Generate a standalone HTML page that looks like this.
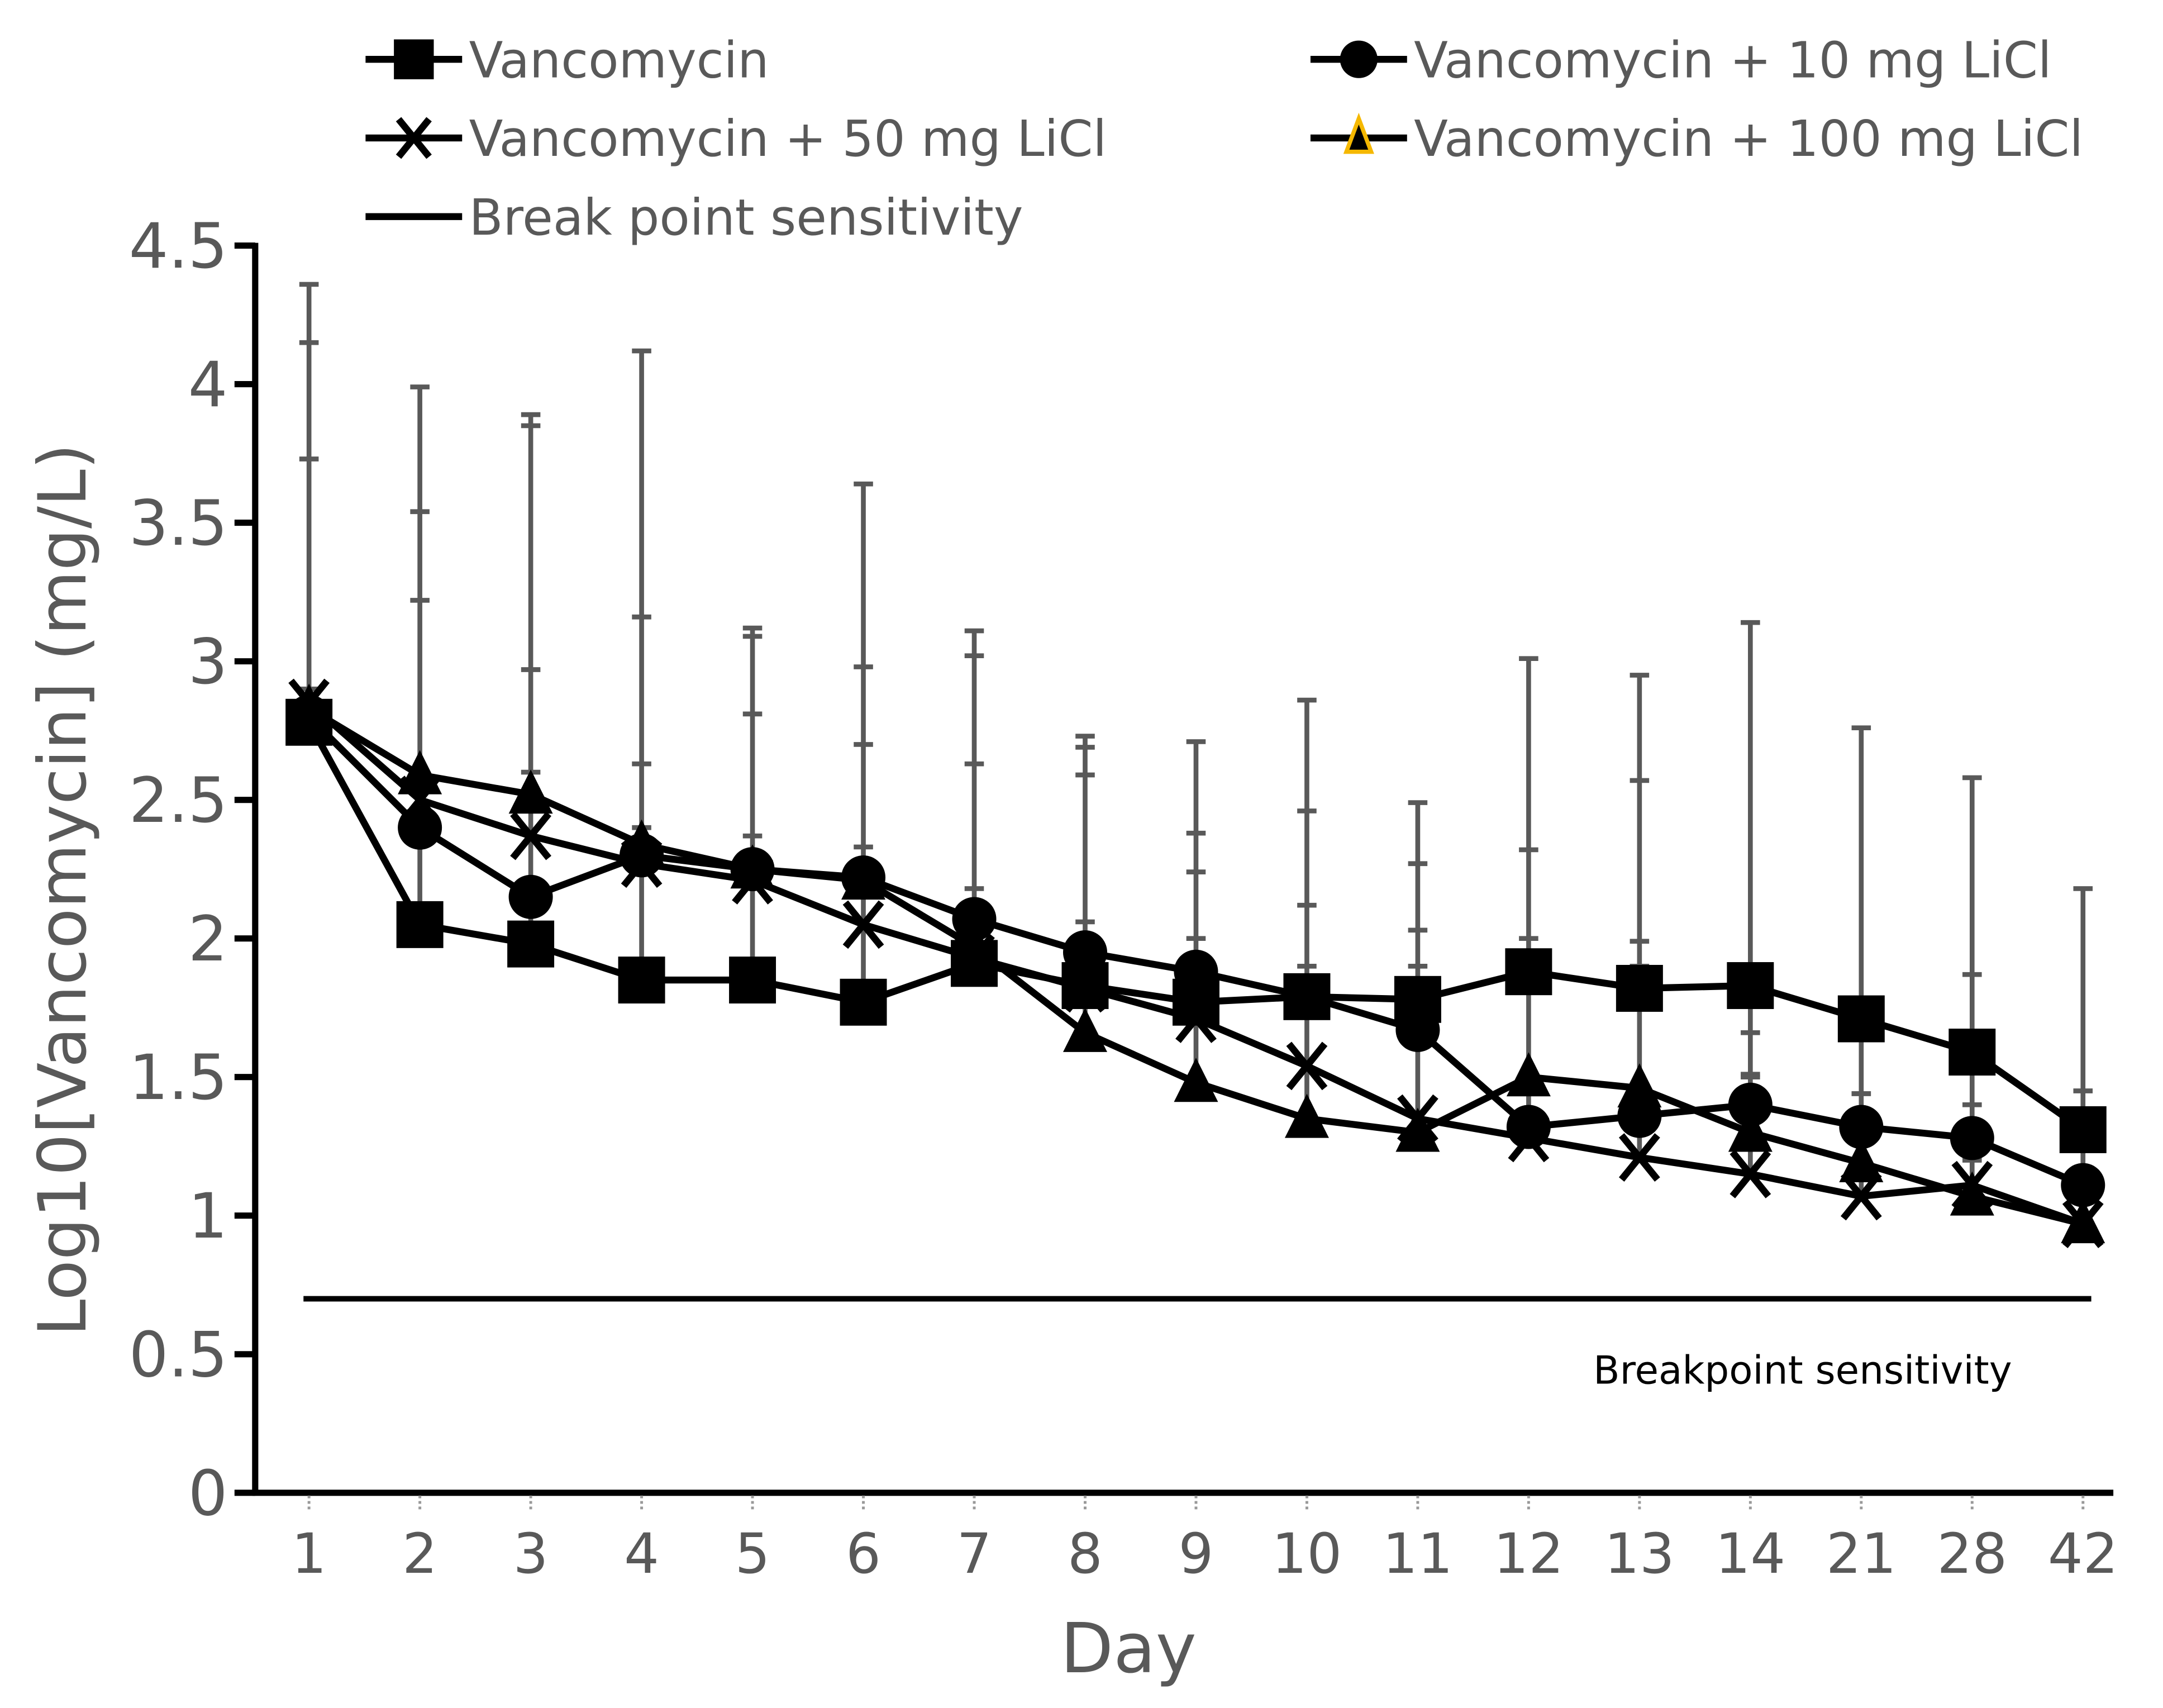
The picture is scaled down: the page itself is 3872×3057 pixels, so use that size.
<!DOCTYPE html>
<html><head><meta charset="utf-8"><style>
html,body{margin:0;padding:0;background:#fff}
svg{display:block}
text{font-family:"DejaVu Sans","Liberation Sans",sans-serif}
</style></head><body>
<svg width="3872" height="3057" viewBox="0 0 1568 1238" preserveAspectRatio="none" xmlns="http://www.w3.org/2000/svg">
<g id="legend"></g>
<g id="axes"></g>
<g id="errs"></g>
<g id="series"></g>
</svg>
<script>
const days = ["1","2","3","4","5","6","7","8","9","10","11","12","13","14","21","28","42"];
const yTicks = [0,0.5,1,1.5,2,2.5,3,3.5,4,4.5];
const yTickLabels = ["0","0.5","1","1.5","2","2.5","3","3.5","4","4.5"];
const vanc = [2.78,2.05,1.98,1.85,1.85,1.77,1.91,1.83,1.77,1.79,1.78,1.88,1.82,1.83,1.71,1.59,1.31];
const li10 = [2.80,2.40,2.15,2.30,2.25,2.22,2.07,1.95,1.88,1.79,1.67,1.32,1.36,1.40,1.32,1.28,1.11];
const li50 = [2.85,2.50,2.37,2.27,2.21,2.05,1.93,1.82,1.71,1.54,1.35,1.28,1.21,1.15,1.07,1.11,0.97];
const li100 = [2.83,2.59,2.52,2.34,2.25,2.21,1.97,1.66,1.48,1.35,1.30,1.50,1.46,1.30,1.19,1.07,0.97];
const vancUp = [4.36,3.99,3.89,4.12,3.12,3.64,3.11,2.73,2.71,2.86,2.49,3.01,2.95,3.14,2.76,2.58,2.18];
const li10Up = [4.15,3.54,3.85,3.16,3.09,2.98,3.02,2.69,2.38,2.46,2.27,2.32,2.57,1.66,1.44,1.87,1.45];
const li50Up = [3.73,3.22,2.97,2.63,2.81,2.70,2.63,2.59,2.24,2.12,2.03,2.00,1.99,1.51,1.44,1.40,1.25];
const li100Up = [2.90,2.60,2.60,2.40,2.37,2.33,2.18,2.06,2.00,1.90,1.90,1.90,1.90,1.50,1.30,1.20,1.10];
const breakpoint = 0.7;

const NS="http://www.w3.org/2000/svg";
const X0=224, X1=1510, Y0=1082, YTOP=178;
function xs(i){return X0+(X1-X0)*i/(days.length-1);}
function ys(v){return Y0-(Y0-YTOP)*v/4.5;}
function mk(tag,attrs,parent,txt){const e=document.createElementNS(NS,tag);for(const k in attrs)e.setAttribute(k,attrs[k]);if(txt!==undefined)e.textContent=txt;parent.appendChild(e);return e;}
const axes=document.getElementById('axes'), errs=document.getElementById('errs'), ser=document.getElementById('series'), leg=document.getElementById('legend');

let a=mk('line',{x1:185,y1:176,x2:185,y2:1084,stroke:'#000','stroke-width':4.5},axes);


a=mk('line',{x1:183,y1:1082,x2:1532,y2:1082,stroke:'#000','stroke-width':4.5},axes);


yTicks.forEach((v,i)=>{
  const t=mk('line',{x1:170,y1:ys(v),x2:185,y2:ys(v),stroke:'#000','stroke-width':4.5},axes);
  
  
  const l=mk('text',{x:165,y:ys(v)+16,'text-anchor':'end','font-size':45,fill:'#595959'},axes,yTickLabels[i]);
  
  
});
days.forEach((d,i)=>{
  const t=mk('line',{x1:xs(i),y1:1084,x2:xs(i),y2:1096,stroke:'#999','stroke-width':2,'stroke-dasharray':'2,2'},axes);
  
  
  const l=mk('text',{x:xs(i),y:1140,'text-anchor':'middle','font-size':40,fill:'#595959'},axes,d);
  
  
});
let tt=mk('text',{x:818,y:1212,'text-anchor':'middle','font-size':50,fill:'#595959'},axes,'Day');


tt=mk('text',{x:0,y:0,'text-anchor':'middle','font-size':48,fill:'#595959',transform:'translate(62,645) rotate(-90)'},axes,'Log10[Vancomycin] (mg/L)');


let bp=mk('line',{x1:xs(0)-4,y1:ys(breakpoint),x2:xs(days.length-1)+6,y2:ys(breakpoint),stroke:'#000','stroke-width':4},axes);


bp=mk('text',{x:1155,y:1003,'font-size':28,fill:'#000'},axes,'Breakpoint sensitivity');



const allMeans=[vanc,li10,li50,li100], allUps=[vancUp,li10Up,li50Up,li100Up];
days.forEach((d,i)=>{
  let lo=Math.min(...allMeans.map(s=>s[i])), hi=Math.max(...allUps.map(s=>s[i]));
  const l=mk('line',{x1:xs(i),y1:ys(lo),x2:xs(i),y2:ys(hi),stroke:'#595959','stroke-width':3.5},errs);
  
  
  allUps.forEach(u=>{
    const c=mk('line',{x1:xs(i)-7,y1:ys(u[i]),x2:xs(i)+7,y2:ys(u[i]),stroke:'#595959','stroke-width':3.5},errs);
    
    
  });
});

function marker(type,x,y,g,sz){
  sz=sz||1;let e;
  if(type==='sq') e=mk('rect',{x:x-17*sz,y:y-17*sz,width:34*sz,height:34*sz,fill:'#000'},g);
  else if(type==='ci') e=mk('circle',{cx:x,cy:y,r:16*sz,fill:'#000'},g);
  else if(type==='tr') e=mk('polygon',{points:`${x},${y-18*sz} ${x-16*sz},${y+14*sz} ${x+16*sz},${y+14*sz}`,fill:'#000'},g);
  else if(type==='trl') e=mk('polygon',{points:`${x},${y-14} ${x-9},${y+10} ${x+9},${y+10}`,fill:'#000',stroke:'#f5b800','stroke-width':3},g);
  else { e=mk('path',{d:`M${x-13*sz},${y-16*sz}L${x+13*sz},${y+16*sz}M${x+13*sz},${y-16*sz}L${x-13*sz},${y+16*sz}`,stroke:'#000','stroke-width':5,fill:'none'},g); }
  return e;
}
const defs=[[li100,'tr','series-100mg'],[li50,'x','series-50mg'],[li10,'ci','series-10mg'],[vanc,'sq','series-vancomycin']];
defs.forEach(([s,t,n])=>{
  const g=mk('g',{},ser);
  
  
  const p=mk('polyline',{points:s.map((v,i)=>xs(i)+','+ys(v)).join(' '),fill:'none',stroke:'#000','stroke-width':5},g);
  
  
  s.forEach((v,i)=>{
    const m=marker(t,xs(i),ys(v),g);
    
    
  });
});

const legItems=[[300,43,'sq','Vancomycin'],[985,43,'ci','Vancomycin + 10 mg LiCl'],[300,100,'x','Vancomycin + 50 mg LiCl'],[985,100,'trl','Vancomycin + 100 mg LiCl'],[300,157,null,'Break point sensitivity']];
legItems.forEach(([x,y,t,label])=>{
  const g=mk('g',{},leg);
  
  
  mk('line',{x1:x-35,y1:y,x2:x+35,y2:y,stroke:'#000','stroke-width':5},g);
  if(t) marker(t,x,y,g,t==='trl'?1:0.85);
  mk('text',{x:x+40,y:y+13,'font-size':36,fill:'#595959'},g,label);
});
</script>
</body></html>
